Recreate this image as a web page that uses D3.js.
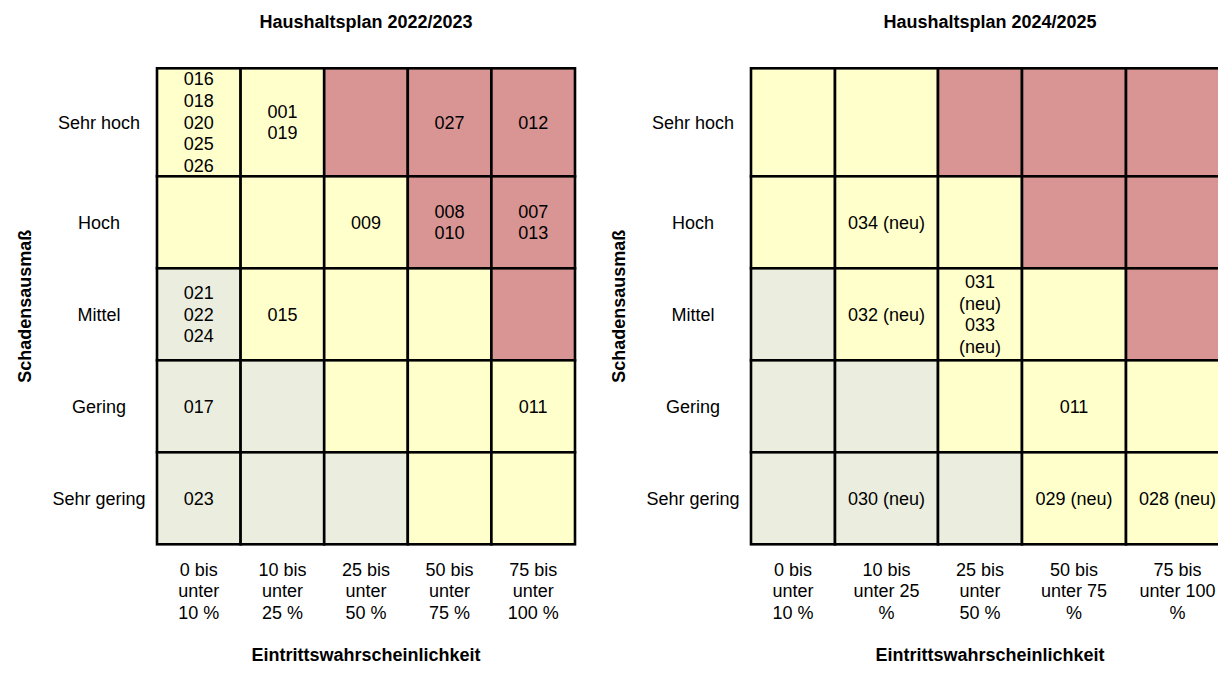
<!DOCTYPE html>
<html lang="de">
<head>
<meta charset="utf-8">
<title>Risikomatrix Haushaltspläne</title>
<script src="https://cdn.jsdelivr.net/npm/d3@7"></script>
<style>
  html, body { margin: 0; padding: 0; background: #ffffff; }
  svg { display: block; }
  text { font-family: Arial, "Liberation Sans", sans-serif; fill: #000; }
</style>
</head>
<body>
<svg id="chart" width="1218" height="690"></svg>
<script>
// Damage levels (rows, top to bottom) and probability classes (columns)
const damageLevels = ["Sehr hoch", "Hoch", "Mittel", "Gering", "Sehr gering"];
const probabilityClasses = [
  "0 bis unter 10 %",
  "10 bis unter 25 %",
  "25 bis unter 50 %",
  "50 bis unter 75 %",
  "75 bis unter 100 %"
];

// Risk zone of each matrix cell: niedrig / mittel / hoch
const riskZones = [
  ["mittel",  "mittel",  "hoch",    "hoch",   "hoch"],
  ["mittel",  "mittel",  "mittel",  "hoch",   "hoch"],
  ["niedrig", "mittel",  "mittel",  "mittel", "hoch"],
  ["niedrig", "niedrig", "mittel",  "mittel", "mittel"],
  ["niedrig", "niedrig", "niedrig", "mittel", "mittel"]
];

const planTitles = ["Haushaltsplan 2022/2023", "Haushaltsplan 2024/2025"];

// Risk numbers per cell, budget 2022/2023
const risks2022 = [
  [["016", "018", "020", "025", "026"], ["001", "019"], [], ["027"], ["012"]],
  [[], [], ["009"], ["008", "010"], ["007", "013"]],
  [["021", "022", "024"], ["015"], [], [], []],
  [["017"], [], [], [], ["011"]],
  [["023"], [], [], [], []]
];

// Risk numbers per cell, budget 2024/2025
const risks2024 = [
  [[], [], [], [], []],
  [[], ["034 (neu)"], [], [], []],
  [[], ["032 (neu)"], ["031 (neu)", "033 (neu)"], [], []],
  [[], [], [], ["011"], []],
  [[], ["030 (neu)"], [], ["029 (neu)"], ["028 (neu)"]]
];

const xAxisTitle = "Eintrittswahrscheinlichkeit";
const yAxisTitle = "Schadensausmaß";

// ---------- layout ----------
const fontSize = 18;
const lineH = 21.6;
const cellPad = 11;
const minRowH = 92;
const gridTop = 68.3;

const panels = [
  { title: planTitles[0], risks: risks2022, x0: 157, colWidths: [83.6, 83.6, 83.6, 83.6, 83.6] },
  { title: planTitles[1], risks: risks2024, x0: 751, colWidths: [84, 103, 84, 104, 103] }
];

const zoneColour = d3.scaleOrdinal()
  .domain(["niedrig", "mittel", "hoch"])
  .range(["#ebeedf", "#ffffcc", "#d99594"]);

const svg = d3.select("#chart");

// text measurement helper for wrapping
const probe = svg.append("text").attr("font-size", fontSize).attr("visibility", "hidden");
function textWidth(s) { probe.text(s); return probe.node().getComputedTextLength(); }
function wrap(str, maxW) {
  const words = str.split(" ");
  const lines = [];
  let cur = "";
  words.forEach(w => {
    const test = cur ? cur + " " + w : w;
    if (!cur || textWidth(test) <= maxW) cur = test;
    else { lines.push(cur); cur = w; }
  });
  if (cur) lines.push(cur);
  return lines;
}

// Wrap cell contents for every panel, then size the rows so the tallest cell fits
panels.forEach(p => {
  p.lines = p.risks.map(row => row.map((items, c) =>
    items.flatMap(it => wrap(it, p.colWidths[c] - 2 * cellPad))));
});
const rowHeights = damageLevels.map((_, r) =>
  Math.max(minRowH, d3.max(panels, p => d3.max(p.lines[r], l => l.length * lineH))));
const rowTops = rowHeights.map((_, r) => gridTop + d3.sum(rowHeights.slice(0, r)));
const y = d3.scaleOrdinal().domain(damageLevels).range(rowTops);
const rowH = d3.scaleOrdinal().domain(damageLevels).range(rowHeights);
const gridBottom = gridTop + d3.sum(rowHeights);

panels.forEach(p => {
  const colLefts = p.colWidths.map((_, c) => p.x0 + d3.sum(p.colWidths.slice(0, c)));
  const x = d3.scaleOrdinal().domain(probabilityClasses).range(colLefts);
  const colW = d3.scaleOrdinal().domain(probabilityClasses).range(p.colWidths);
  const gridRight = p.x0 + d3.sum(p.colWidths);
  const cx = (p.x0 + gridRight) / 2;

  const g = svg.append("g");

  // title
  g.append("text")
    .attr("x", cx).attr("y", 28)
    .attr("text-anchor", "middle")
    .attr("font-size", fontSize).attr("font-weight", "bold")
    .text(p.title);

  // cells
  const cells = [];
  damageLevels.forEach((d, r) => probabilityClasses.forEach((pc, c) => {
    cells.push({ d, pc, zone: riskZones[r][c], lines: p.lines[r][c] });
  }));

  const cell = g.selectAll("g.cell").data(cells).join("g").attr("class", "cell");
  cell.append("rect")
    .attr("x", v => x(v.pc)).attr("y", v => y(v.d))
    .attr("width", v => colW(v.pc)).attr("height", v => rowH(v.d))
    .attr("fill", v => zoneColour(v.zone))
    .attr("stroke", "#000").attr("stroke-width", 2.6);

  cell.each(function(v) {
    const n = v.lines.length;
    if (!n) return;
    const midX = x(v.pc) + colW(v.pc) / 2;
    const top = y(v.d) + rowH(v.d) / 2 - n * lineH / 2;
    d3.select(this).selectAll("text").data(v.lines).join("text")
      .attr("x", midX)
      .attr("y", (t, i) => top + (i + 0.5) * lineH + 0.35 * fontSize)
      .attr("text-anchor", "middle")
      .attr("font-size", fontSize)
      .text(t => t);
  });

  // row labels
  g.selectAll("text.row").data(damageLevels).join("text")
    .attr("class", "row")
    .attr("x", p.x0 - 58)
    .attr("y", d => y(d) + rowH(d) / 2 + 0.35 * fontSize)
    .attr("text-anchor", "middle")
    .attr("font-size", fontSize)
    .text(d => d);

  // column labels (wrapped to column width)
  probabilityClasses.forEach(pc => {
    const lines = wrap(pc, colW(pc) - 2 * cellPad);
    g.append("g").selectAll("text").data(lines).join("text")
      .attr("x", x(pc) + colW(pc) / 2)
      .attr("y", (t, i) => gridBottom + 25 + i * lineH + 0.35 * fontSize)
      .attr("text-anchor", "middle")
      .attr("font-size", fontSize)
      .text(t => t);
  });

  // axis titles
  g.append("text")
    .attr("x", cx).attr("y", 661)
    .attr("text-anchor", "middle")
    .attr("font-size", fontSize).attr("font-weight", "bold")
    .text(xAxisTitle);

  const midY = (gridTop + gridBottom) / 2;
  g.append("text")
    .attr("transform", `translate(${p.x0 - 126},${midY}) rotate(-90)`)
    .attr("text-anchor", "middle")
    .attr("font-size", fontSize).attr("font-weight", "bold")
    .text(yAxisTitle);
});

probe.remove();
</script>
</body>
</html>
